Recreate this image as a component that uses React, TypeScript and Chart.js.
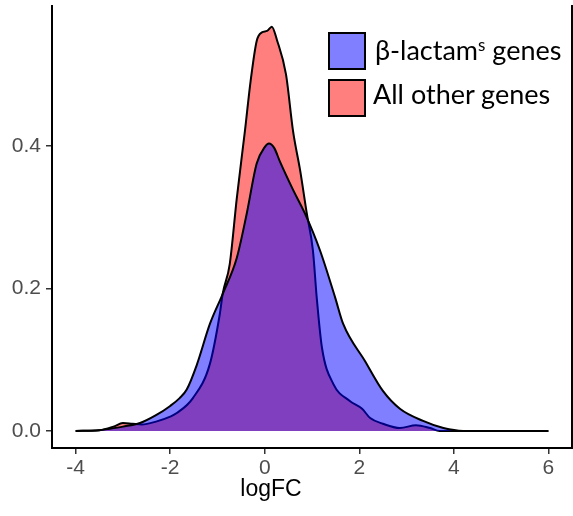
import React, { useEffect, useRef } from "react";
import { Chart, registerables } from "chart.js";

Chart.register(...registerables);

// β-lactam^s genes density (x, y)
const betaX = [-4, -3.5, -3.28, -3.0, -2.64, -2.3, -2.0, -1.8, -1.65, -1.44, -1.16, -0.89, -0.59, -0.38, -0.17, 0.0, 0.09, 0.2, 0.32, 0.6, 0.85, 1.17, 1.49, 1.66, 2.12, 2.5, 2.86, 3.35, 3.78, 4.2, 5.0, 6];
const betaY = [0, 0.001, 0.003, 0.006, 0.011, 0.022, 0.035, 0.046, 0.058, 0.092, 0.15, 0.192, 0.243, 0.305, 0.375, 0.398, 0.403, 0.397, 0.378, 0.338, 0.305, 0.253, 0.187, 0.15, 0.098, 0.056, 0.031, 0.014, 0.004, 0, 0, 0];

// All other genes density (x, y)
const otherX = [-4, -3.5, -3.2, -3.0, -2.8, -2.6, -2.3, -2.0, -1.86, -1.52, -1.16, -0.95, -0.89, -0.74, -0.59, -0.42, -0.3, -0.17, -0.06, 0.05, 0.15, 0.26, 0.45, 0.6, 0.75, 0.89, 1.02, 1.1, 1.21, 1.45, 1.8, 2.06, 2.23, 2.5, 2.86, 3.2, 3.5, 3.7, 5.0, 6];
const otherY = [0, 0.001, 0.006, 0.011, 0.01, 0.009, 0.013, 0.02, 0.025, 0.046, 0.094, 0.164, 0.192, 0.234, 0.327, 0.42, 0.49, 0.547, 0.559, 0.561, 0.567, 0.548, 0.5, 0.42, 0.365, 0.305, 0.253, 0.187, 0.117, 0.066, 0.042, 0.031, 0.018, 0.01, 0.004, 0.008, 0.004, 0, 0, 0];

const xTicks = [-4, -2, 0, 2, 4, 6];
const yTicks = [0, 0.2, 0.4];
const xTitle = "logFC";
const legendMain = ["β-lactam", "All other genes"];
const legendSup = "s";
const legendTail = " genes";

const BLUE_FILL = "rgba(0,0,255,0.5)";
const RED_FILL = "rgba(255,0,0,0.5)";

export default function App() {
  const canvasRef = useRef<HTMLCanvasElement | null>(null);

  useEffect(() => {
    const canvas = canvasRef.current;
    if (!canvas) return;
    const tickFont = { family: "'Liberation Sans', Arial, sans-serif", size: 21 };
    const chart = new Chart(canvas, {
      type: "line",
      data: {
        datasets: [
          {
            label: legendMain[0] + legendSup + legendTail,
            data: betaX.map((x, i) => ({ x, y: betaY[i] })),
            borderColor: "#000",
            borderWidth: 2,
            backgroundColor: BLUE_FILL,
            fill: "origin",
            pointRadius: 0,
            cubicInterpolationMode: "monotone",
          },
          {
            label: legendMain[1],
            data: otherX.map((x, i) => ({ x, y: otherY[i] })),
            borderColor: "#000",
            borderWidth: 2,
            backgroundColor: RED_FILL,
            fill: "origin",
            pointRadius: 0,
            cubicInterpolationMode: "monotone",
          },
        ],
      },
      options: {
        animation: false,
        responsive: false,
        maintainAspectRatio: false,
        layout: { padding: { top: 6, right: 0, left: 0, bottom: 0 } },
        plugins: { legend: { display: false }, tooltip: { enabled: false } },
        scales: {
          x: {
            type: "linear",
            min: -4.5,
            max: 6.5,
            afterBuildTicks: (s: any) => {
              s.ticks = xTicks.map((v) => ({ value: v }));
            },
            afterFit: (s: any) => {
              s.height = 68;
              s.paddingLeft = 0;
              s.paddingRight = 0;
            },
            ticks: {
              autoSkip: false,
              maxRotation: 0,
              color: "#4d4d4d",
              font: tickFont,
              padding: 2,
              callback: (v: any) => String(v),
            },
            grid: { drawOnChartArea: false, drawTicks: true, tickLength: 6, color: "#333", lineWidth: 1.5 },
            border: { display: true, color: "#000", width: 2 },
          },
          y: {
            type: "linear",
            min: -0.024,
            max: 0.596,
            afterBuildTicks: (s: any) => {
              s.ticks = yTicks.map((v) => ({ value: v }));
            },
            afterFit: (s: any) => {
              s.width = 52;
              s.paddingTop = 0;
              s.paddingBottom = 0;
            },
            ticks: {
              color: "#4d4d4d",
              font: tickFont,
              padding: 5,
              callback: (v: any) => Number(v).toFixed(1),
            },
            grid: { drawOnChartArea: false, drawTicks: true, tickLength: 6, color: "#333", lineWidth: 1.5 },
            border: { display: true, color: "#000", width: 2 },
          },
          y2: {
            type: "linear",
            position: "right",
            min: -0.024,
            max: 0.596,
            afterFit: (s: any) => {
              s.width = 1;
              s.paddingTop = 0;
              s.paddingBottom = 0;
            },
            ticks: { display: false },
            grid: { display: false, drawTicks: false },
            border: { display: true, color: "#000", width: 2 },
          },
        },
      } as any,
    });
    return () => chart.destroy();
  }, []);

  const legendFont = "Lato, 'Open Sans', sans-serif";
  const boxStyle = (bg: string, top: number): React.CSSProperties => ({
    position: "absolute",
    left: 328,
    top,
    width: 38,
    height: 38,
    boxSizing: "border-box",
    border: "2px solid #000",
    background: bg,
  });
  const textStyle = (left: number, top: number): React.CSSProperties => ({
    position: "absolute",
    left,
    top,
    fontFamily: legendFont,
    fontSize: 27,
    lineHeight: "34px",
    color: "#000",
    whiteSpace: "nowrap",
  });

  return (
    <div style={{ position: "absolute", left: 0, top: 0, width: 573, height: 516, background: "#fff", overflow: "hidden" }}>
      <canvas ref={canvasRef} width={573} height={516} style={{ position: "absolute", left: 0, top: 0, width: 573, height: 516 }} />
      <div style={boxStyle(BLUE_FILL, 32)} />
      <div style={boxStyle(RED_FILL, 79)} />
      <div style={textStyle(375, 33)}>
        {legendMain[0]}
        <span style={{ fontSize: 17, position: "relative", top: -9 }}>{legendSup}</span>
        {legendTail}
      </div>
      <div style={textStyle(373, 77)}>{legendMain[1]}</div>
      <div
        style={{
          position: "absolute",
          left: 171,
          width: 200,
          top: 474,
          textAlign: "center",
          fontFamily: "'Liberation Sans', Arial, sans-serif",
          fontSize: 23,
          lineHeight: "28px",
          color: "#000",
        }}
      >
        {xTitle}
      </div>
    </div>
  );
}
